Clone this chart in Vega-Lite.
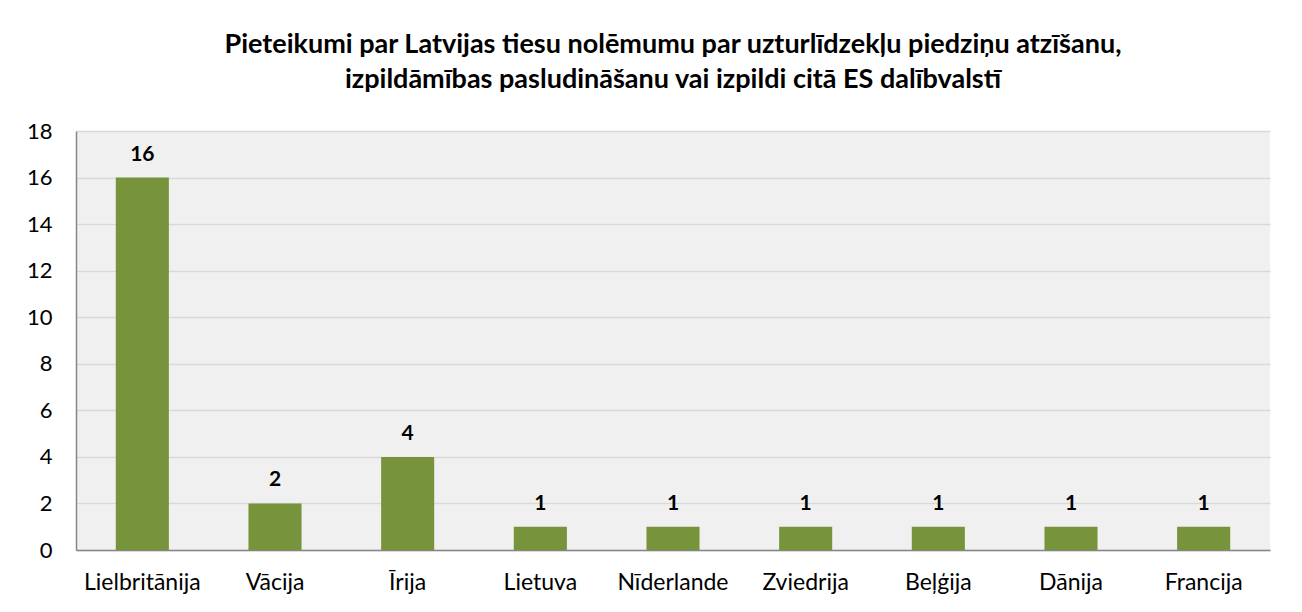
{
  "$schema": "https://vega.github.io/schema/vega-lite/v6.json",
  "width": 1194,
  "height": 419,
  "autosize": {"type": "none"},
  "padding": {"left": 76, "top": 131, "right": 32, "bottom": 62},
  "background": "white",
  "title": {
    "text": ["Pieteikumi par Latvijas tiesu nolēmumu par uzturlīdzekļu piedziņu atzīšanu,", "izpildāmības pasludināšanu  vai izpildi citā ES dalībvalstī"],
    "font": "Lato",
    "fontSize": 27,
    "fontWeight": "bold",
    "color": "#000000",
    "lineHeight": 35,
    "anchor": "middle",
    "offset": 26
  },
  "data": {
    "values": [
      {"valsts": "Lielbritānija", "skaits": 16},
      {"valsts": "Vācija", "skaits": 2},
      {"valsts": "Īrija", "skaits": 4},
      {"valsts": "Lietuva", "skaits": 1},
      {"valsts": "Nīderlande", "skaits": 1},
      {"valsts": "Zviedrija", "skaits": 1},
      {"valsts": "Beļģija", "skaits": 1},
      {"valsts": "Dānija", "skaits": 1},
      {"valsts": "Francija", "skaits": 1}
    ]
  },
  "encoding": {
    "x": {
      "field": "valsts",
      "type": "nominal",
      "sort": null,
      "scale": {"paddingInner": 0.6, "paddingOuter": 0.3},
      "axis": {
        "title": null,
        "labelAngle": 0,
        "labelFont": "Lato",
        "labelFontSize": 23,
        "labelColor": "#000000",
        "labelPadding": 21,
        "ticks": false,
        "domainColor": "#868686",
        "domainWidth": 1.5,
        "grid": false
      }
    },
    "y": {
      "field": "skaits",
      "type": "quantitative",
      "scale": {"domain": [0, 18], "nice": false},
      "axis": {
        "title": null,
        "values": [0, 2, 4, 6, 8, 10, 12, 14, 16, 18],
        "labelFont": "Lato",
        "labelFontSize": 22,
        "labelColor": "#000000",
        "labelPadding": 24,
        "ticks": false,
        "domainColor": "#868686",
        "domainWidth": 1.5,
        "gridColor": "#D9D9D9",
        "gridWidth": 1.5
      }
    }
  },
  "layer": [
    {"mark": {"type": "bar", "color": "#77933C"}},
    {
      "mark": {"type": "text", "baseline": "bottom", "dy": -13, "font": "Lato", "fontSize": 21, "fontWeight": "bold", "color": "#000000"},
      "encoding": {"text": {"field": "skaits", "type": "quantitative"}}
    }
  ],
  "config": {
    "view": {"fill": "#F0F0F0", "stroke": null}
  }
}
